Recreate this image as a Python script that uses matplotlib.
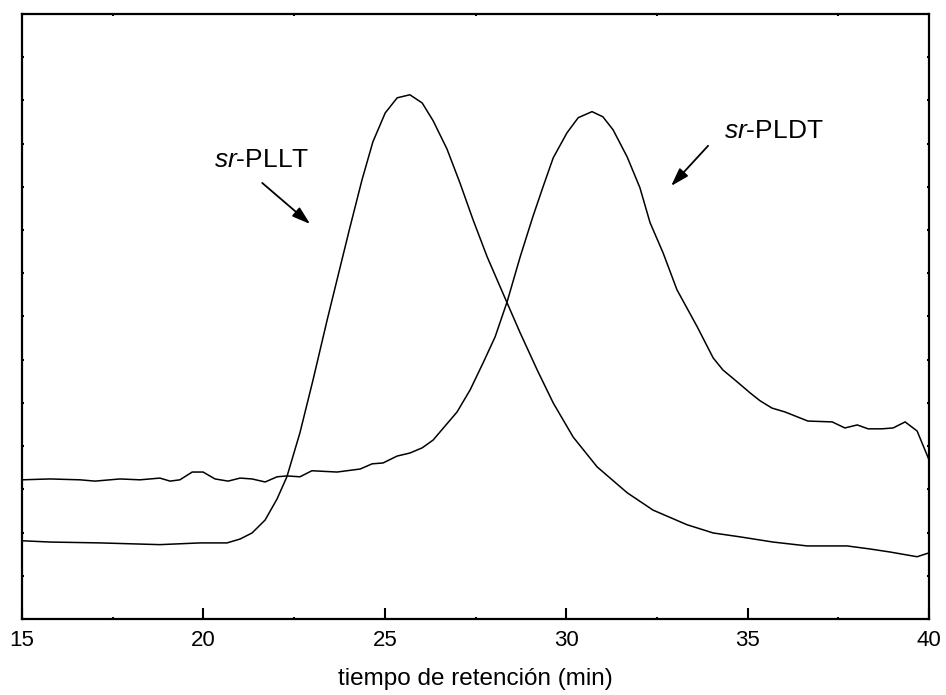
import matplotlib
matplotlib.use('Agg')
import matplotlib.pyplot as plt
from matplotlib.ticker import MultipleLocator

plt.rcParams['font.family'] = ['Liberation Sans', 'DejaVu Sans']
plt.rcParams['mathtext.fontset'] = 'custom'
plt.rcParams['mathtext.rm'] = 'Liberation Sans'
plt.rcParams['mathtext.it'] = 'Liberation Sans:italic'

# sr-PLLT trace (retention time in min, detector signal in arbitrary units)
pllt_t = [15.00, 15.77, 17.15, 18.80, 19.91, 20.65, 21.01, 21.34, 21.70, 22.03,
          22.30, 22.66, 23.02, 23.41, 23.77, 24.04, 24.37, 24.67, 25.01, 25.34,
          25.69, 26.03, 26.33, 26.71, 27.07, 27.43, 27.82, 28.31, 28.73, 29.20,
          29.64, 30.19, 30.85, 31.68, 32.39, 33.33, 34.05, 34.79, 35.70, 36.64,
          37.74, 38.37, 38.92, 39.67, 40.00]
pllt_y = [1.81, 1.78, 1.76, 1.72, 1.76, 1.76, 1.85, 1.99, 2.29, 2.78,
          3.29, 4.31, 5.53, 6.92, 8.15, 9.07, 10.16, 11.04, 11.71, 12.06,
          12.13, 11.94, 11.53, 10.88, 10.09, 9.24, 8.38, 7.43, 6.62, 5.76,
          5.00, 4.21, 3.52, 2.92, 2.52, 2.18, 1.99, 1.90, 1.78, 1.69,
          1.69, 1.62, 1.55, 1.44, 1.53]

# sr-PLDT trace
pldt_t = [15.00, 15.77, 16.60, 17.01, 17.70, 18.25, 18.80, 19.08, 19.35, 19.69,
          19.99, 20.32, 20.68, 21.01, 21.34, 21.70, 22.03, 22.30, 22.66, 22.99,
          23.68, 24.32, 24.65, 24.95, 25.34, 25.69, 26.03, 26.33, 26.99, 27.35,
          27.71, 28.04, 28.37, 28.73, 29.08, 29.36, 29.64, 30.02, 30.33, 30.71,
          31.01, 31.29, 31.68, 32.03, 32.31, 32.67, 33.05, 33.61, 34.05, 34.32,
          34.65, 35.07, 35.34, 35.67, 36.03, 36.66, 37.33, 37.68, 38.02, 38.32,
          38.70, 39.01, 39.34, 39.67, 40.00]
pldt_y = [3.22, 3.24, 3.22, 3.19, 3.24, 3.22, 3.26, 3.19, 3.22, 3.40,
          3.40, 3.24, 3.19, 3.26, 3.24, 3.17, 3.29, 3.31, 3.29, 3.43,
          3.40, 3.47, 3.59, 3.61, 3.77, 3.84, 3.96, 4.14, 4.79, 5.30,
          5.93, 6.53, 7.34, 8.38, 9.31, 10.00, 10.67, 11.25, 11.60, 11.74,
          11.62, 11.32, 10.69, 9.98, 9.17, 8.47, 7.62, 6.76, 6.04, 5.76,
          5.53, 5.23, 5.05, 4.88, 4.79, 4.58, 4.56, 4.42, 4.49, 4.40,
          4.40, 4.42, 4.56, 4.35, 3.68]

fig = plt.figure(figsize=(9.46, 6.95), dpi=100)
ax = fig.add_axes([0.0233, 0.1094, 0.9588, 0.8705])

ax.plot(pllt_t, pllt_y, color='black', lw=1.1)
ax.plot(pldt_t, pldt_y, color='black', lw=1.1)

ax.set_xlim(15, 40)
ax.set_ylim(0, 14)

# labels with arrows
arrow = dict(arrowstyle='-|>,head_length=1.1,head_width=0.35', color='black',
             lw=1.3, shrinkA=0, shrinkB=0)
ax.annotate('', xy=(22.94, 9.14), xytext=(21.62, 10.09), arrowprops=arrow)
ax.annotate('', xy=(32.89, 10.02), xytext=(33.91, 10.95), arrowprops=arrow)
ax.text(21.59, 10.46, r'$\mathit{sr}$-PLLT', fontsize=19, ha='center', va='baseline')
ax.text(35.73, 11.13, r'$\mathit{sr}$-PLDT', fontsize=19, ha='center', va='baseline')

# ticks
ax.xaxis.set_major_locator(MultipleLocator(5))
ax.xaxis.set_minor_locator(MultipleLocator(2.5))
ax.yaxis.set_major_locator(MultipleLocator(1))
ax.tick_params(axis='x', which='major', direction='in', length=8, width=1.5,
               top=False, labelsize=16, pad=8)
ax.tick_params(axis='x', which='minor', direction='in', length=1.5, width=1.5,
               top=True)
ax.tick_params(axis='y', which='major', direction='in', length=1.5, width=1.5,
               left=True, right=True, labelleft=False)
for s in ax.spines.values():
    s.set_linewidth(1.6)

ax.set_xlabel('tiempo de retención (min)', fontsize=17.5, labelpad=12)

fig.savefig('out.png', dpi=100)
